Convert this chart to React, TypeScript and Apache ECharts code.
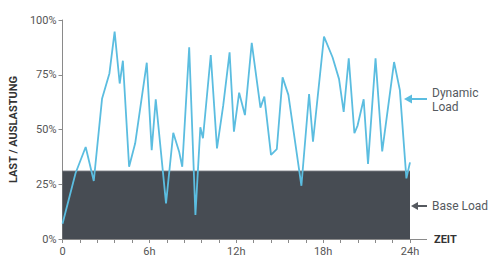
import React, { useEffect, useRef } from "react";
import * as echarts from "echarts";

const hours = [0, 0.9, 1.6, 2.16, 2.73, 3.24, 3.6, 3.95, 4.17, 4.6, 5.02, 5.82, 6.16, 6.44, 7.15, 7.65, 8.05, 8.27, 8.75, 9.18, 9.52, 9.7, 10.24, 10.67, 11.1, 11.54, 11.84, 12.2, 12.6, 13.07, 13.67, 13.94, 14.4, 14.8, 15.2, 15.6, 16.05, 16.5, 17.03, 17.3, 18.06, 18.65, 19.1, 19.42, 19.77, 20.16, 20.38, 20.8, 21.1, 21.62, 22.08, 22.9, 23.3, 23.75, 24];
const dynamicLoad = [7, 30, 42, 26.5, 64, 75.6, 94.7, 71, 81.4, 33, 43.7, 80.5, 40.6, 63.8, 16.3, 48.5, 40, 33, 87.5, 11, 51, 46, 84, 41.4, 61, 85.2, 49, 66.8, 56.6, 89.6, 60, 65, 38.4, 41, 73.8, 65.8, 45, 24.3, 66.2, 44.4, 92.4, 83, 73, 58, 82.5, 48.3, 51.8, 63.8, 34.3, 82.5, 40, 80.8, 68, 27.7, 35];
const baseHours = [0, 24];
const baseLoad = [31, 31];
const yTicks = [0, 25, 50, 75, 100];

export default function App() {
  const ref = useRef<HTMLDivElement>(null);
  useEffect(() => {
    if (!ref.current) return;
    const chart = echarts.init(ref.current, undefined, { renderer: "svg" });
    const font = "Roboto, 'Noto Sans', sans-serif";
    chart.setOption({
      animation: false,
      textStyle: { fontFamily: font },
      grid: { left: 59.5, right: 90, top: 20, bottom: 33 },
      xAxis: {
        type: "value",
        min: 0,
        max: 24,
        interval: 6,
        axisLine: { show: true, lineStyle: { color: "#8a8a8a", width: 1 } },
        axisTick: { show: true, length: 4, lineStyle: { color: "#8a8a8a" } },
        minorTick: { show: true, splitNumber: 5, length: 4, lineStyle: { color: "#8a8a8a" } },
        splitLine: { show: false },
        axisLabel: {
          color: "#555",
          fontSize: 11,
          margin: 7,
          fontFamily: font,
          formatter: (v: number) => (v === 0 ? "0" : v + "h"),
        },
      },
      yAxis: {
        type: "value",
        min: yTicks[0],
        max: yTicks[yTicks.length - 1],
        interval: 25,
        name: "LAST / AUSLASTUNG",
        nameLocation: "middle",
        nameGap: 38,
        nameTextStyle: { color: "#333", fontSize: 11, fontWeight: "bold", fontFamily: font },
        axisLine: { show: true, lineStyle: { color: "#8a8a8a", width: 1 } },
        axisTick: { show: true, length: 4, lineStyle: { color: "#8a8a8a" } },
        splitLine: { show: false },
        axisLabel: { color: "#555", fontSize: 11, margin: 6, fontFamily: font, formatter: "{value}%" },
      },
      series: [
        {
          type: "line",
          data: baseHours.map((h, i) => [h, baseLoad[i]]),
          symbol: "none",
          lineStyle: { color: "#6c7076", width: 1 },
          areaStyle: { color: "#474c53", opacity: 1 },
          z: 1,
        },
        {
          type: "line",
          data: hours.map((h, i) => [h, dynamicLoad[i]]),
          symbol: "none",
          lineStyle: { color: "#5bbde0", width: 1.8 },
          z: 3,
        },
      ],
      graphic: [
        { type: "line", shape: { x1: 410, y1: 239.5, x2: 427, y2: 239.5 }, style: { stroke: "#8a8a8a", lineWidth: 1 } },
        { type: "text", x: 434, y: 239, style: { text: "ZEIT", fill: "#333", font: `bold 11px ${font}`, textVerticalAlign: "middle" } },
        { type: "line", shape: { x1: 410, y1: 99, x2: 427, y2: 99 }, style: { stroke: "#5bbde0", lineWidth: 2 } },
        { type: "polygon", shape: { points: [[404, 99], [412, 94.5], [412, 103.5]] }, style: { fill: "#5bbde0" } },
        { type: "text", x: 432, y: 86, style: { text: "Dynamic\nLoad", fill: "#555a60", font: `12px ${font}`, lineHeight: 14 } },
        { type: "line", shape: { x1: 416, y1: 206, x2: 427, y2: 206 }, style: { stroke: "#55595f", lineWidth: 2 } },
        { type: "polygon", shape: { points: [[411, 206], [418, 202], [418, 210]] }, style: { fill: "#55595f" } },
        { type: "text", x: 432, y: 206, style: { text: "Base Load", fill: "#555a60", font: `12px ${font}`, textVerticalAlign: "middle" } },
      ],
    });
    return () => chart.dispose();
  }, []);
  return <div ref={ref} style={{ width: 500, height: 272, position: "absolute", left: 0, top: 0, background: "#fff" }} />;
}
